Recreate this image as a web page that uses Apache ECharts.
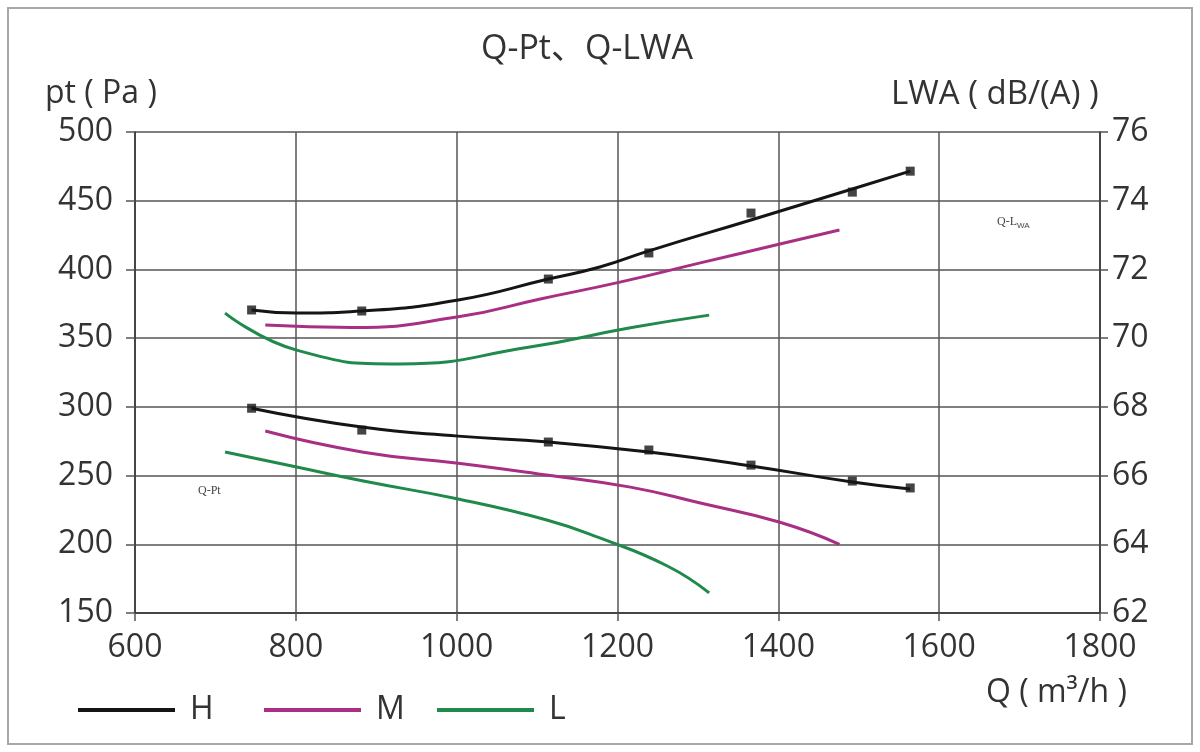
<!DOCTYPE html>
<html lang="zh-CN">
<head>
    <meta charset="UTF-8">
    <title>Q-Pt、Q-LWA</title>
    <style>
        html, body { margin: 0; padding: 0; background: #fff; }
        #chart { width: 1200px; height: 752px; }
    </style>
    <script src="https://cdn.jsdelivr.net/npm/echarts@6/dist/echarts.min.js"></script>
</head>
<body>
    <div id="chart"></div>

    <script type="text/javascript">
        // Q-LWA curves, right axis, dB(A)
        var lwaH_q = [745, 801, 882, 1002, 1114, 1178, 1239, 1366, 1492, 1564];
        var lwaH_v = [70.82, 70.73, 70.79, 71.11, 71.72, 72.07, 72.54, 73.44, 74.34, 74.86];
        var lwaH_mq = [745, 882, 1114, 1239, 1366, 1492, 1564];
        var lwaH_mv = [70.82, 70.79, 71.72, 72.48, 73.64, 74.25, 74.86];
        var lwaM_q = [762, 870, 1002, 1104, 1203, 1303, 1402, 1476];
        var lwaM_v = [70.38, 70.31, 70.62, 71.14, 71.63, 72.19, 72.74, 73.15];
        var lwaL_q = [712, 801, 930, 1091, 1216, 1314];
        var lwaL_v = [70.73, 69.65, 69.25, 69.74, 70.3, 70.67];

        // Q-Pt curves, left axis, Pa
        var ptH_q = [745, 882, 1002, 1114, 1239, 1366, 1492, 1564];
        var ptH_v = [299, 285.3, 278.7, 274.4, 267.1, 257, 245.3, 240.2];
        var ptH_mq = [745, 882, 1114, 1239, 1366, 1492, 1564];
        var ptH_mv = [299, 283.1, 274.4, 268.6, 257.6, 246, 241];
        var ptM_q = [762, 884, 1002, 1112, 1216, 1303, 1402, 1476];
        var ptM_v = [282.4, 267, 259, 250.4, 241.6, 230, 216, 200];
        var ptL_q = [712, 801, 884, 1002, 1112, 1178, 1262, 1314];
        var ptL_v = [267.2, 256.2, 246, 232.9, 217.7, 204.6, 184.2, 164.6];

        var colorH = '#151515';
        var colorM = '#a82f84';
        var colorL = '#1f8a4c';
        var textColor = '#333';
        var font = '"Open Sans", "Noto Sans CJK SC", sans-serif';

        function zip(xs, ys) {
            return xs.map(function (x, i) { return [x, ys[i]]; });
        }

        function curve(name, color, axis, xs, ys) {
            return {
                name: name,
                type: 'line',
                yAxisIndex: axis,
                data: zip(xs, ys),
                smooth: true,
                showSymbol: false,
                lineStyle: { color: color, width: 3 },
                itemStyle: { color: color }
            };
        }

        function marks(name, axis, xs, ys) {
            return {
                name: name,
                type: 'scatter',
                yAxisIndex: axis,
                data: zip(xs, ys),
                symbol: 'rect',
                symbolSize: 9,
                itemStyle: { color: colorH }
            };
        }

        function legendAt(name, left) {
            return {
                data: [name],
                left: left,
                top: 694,
                padding: 0,
                icon: 'rect',
                itemWidth: 97,
                itemHeight: 4,
                textStyle: { fontSize: 32, color: textColor, fontFamily: font, padding: [0, 0, 0, 10] }
            };
        }

        var myChart = echarts.init(document.getElementById('chart'));
        var option = {
            animation: false,
            backgroundColor: '#fff',
            title: {
                text: 'Q-Pt、Q-LWA',
                left: 476,
                top: 27,
                textStyle: { fontSize: 34, fontWeight: 'normal', color: textColor, fontFamily: font }
            },
            legend: [legendAt('H', 78), legendAt('M', 264), legendAt('L', 437)],
            grid: { left: 135, right: 100, top: 132, bottom: 139 },
            xAxis: {
                type: 'value',
                min: 600,
                max: 1800,
                interval: 200,
                axisLine: { lineStyle: { color: '#333', width: 1.5 } },
                axisTick: { length: 8, lineStyle: { color: '#555', width: 1.5 } },
                axisLabel: { margin: 19, fontSize: 32, color: textColor, fontFamily: font,
                             formatter: function (v) { return String(v); } },
                splitLine: { lineStyle: { color: '#555', width: 1.5 } }
            },
            yAxis: [{
                type: 'value',
                min: 150,
                max: 500,
                interval: 50,
                axisLine: { show: true, lineStyle: { color: '#333', width: 1.5 } },
                axisTick: { show: true, length: 9, lineStyle: { color: '#555', width: 1.5 } },
                axisLabel: { margin: 22, fontSize: 32, color: textColor, fontFamily: font },
                splitLine: { lineStyle: { color: '#555', width: 1.5 } }
            }, {
                type: 'value',
                min: 62,
                max: 76,
                interval: 2,
                axisLine: { show: true, lineStyle: { color: '#333', width: 1.5 } },
                axisTick: { show: true, length: 8, lineStyle: { color: '#555', width: 1.5 } },
                axisLabel: { margin: 12, fontSize: 32, color: textColor, fontFamily: font },
                splitLine: { show: false }
            }],
            graphic: [
                { type: 'rect', shape: { x: 8, y: 8, width: 1184, height: 736 },
                  style: { fill: null, stroke: '#a8a8a8', lineWidth: 2 }, silent: true },
                { type: 'text', left: 45, top: 78,
                  style: { text: 'pt (\u00a0Pa\u00a0)', fontSize: 32, fill: textColor, fontFamily: font } },
                { type: 'text', left: 891, top: 78,
                  style: { text: 'LWA (\u00a0dB/(A)\u00a0)', fontSize: 33, fill: textColor, fontFamily: font } },
                { type: 'text', left: 986, top: 677,
                  style: { text: 'Q (\u00a0m³/h\u00a0)', fontSize: 32, fill: textColor, fontFamily: font } },
                { type: 'text', left: 198, top: 485,
                  style: { text: 'Q-Pt', fontSize: 12, fill: '#444', fontFamily: '"Liberation Serif", serif' } },
                { type: 'text', left: 997, top: 216,
                  style: { text: 'Q-L{s|WA}', fontSize: 12, fill: '#444', fontFamily: '"Liberation Serif", serif',
                           rich: { s: { fontSize: 8, padding: [8, 0, 0, 0], fill: '#444' } } } }
            ],
            series: [
                curve('H', colorH, 1, lwaH_q, lwaH_v),
                curve('M', colorM, 1, lwaM_q, lwaM_v),
                curve('L', colorL, 1, lwaL_q, lwaL_v),
                curve('H', colorH, 0, ptH_q, ptH_v),
                curve('M', colorM, 0, ptM_q, ptM_v),
                curve('L', colorL, 0, ptL_q, ptL_v),
                marks('H', 1, lwaH_mq, lwaH_mv),
                marks('H', 0, ptH_mq, ptH_mv)
            ]
        };
        myChart.setOption(option);
    </script>
</body>
</html>
